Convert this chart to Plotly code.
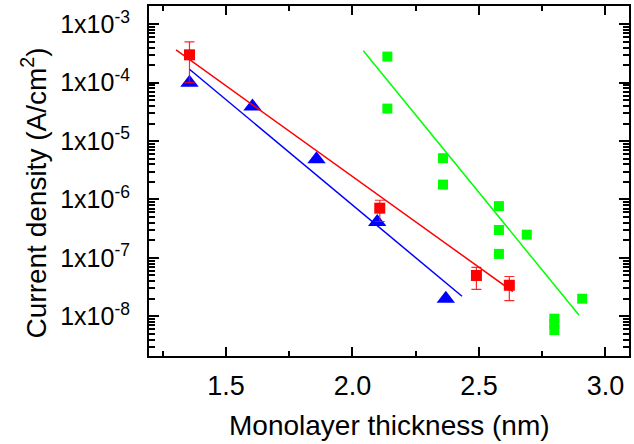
import numpy as np
import plotly.graph_objects as go

# ---- data ----
red_x = [1.356, 2.108, 2.49, 2.62]
red_y = [3.0e-4, 7.1e-7, 5.0e-8, 3.4e-8]
red_top = [5.0e-4, 9.7e-7, 6.9e-8, 4.8e-8]
red_bot = [1.0e-4, 4.2e-7, 2.9e-8, 1.86e-8]

blue_x = [1.356, 1.605, 1.858, 2.098, 2.369]
blue_y = [1.0e-4, 3.9e-5, 4.9e-6, 4.1e-7, 2.0e-8]

green_x = [2.138, 2.138, 2.358, 2.358, 2.579, 2.579, 2.579, 2.689, 2.798, 2.798, 2.798, 2.908]
green_y = [2.8e-4, 3.6e-5, 5.1e-6, 1.8e-6, 7.7e-7, 3.0e-7, 1.17e-7, 2.5e-7, 9.1e-9, 7.4e-9, 5.8e-9, 2.0e-8]

red_fit_x = [1.303, 2.634]
red_fit_y = [3.63e-4, 2.65e-8]
blue_fit_x = [1.356, 2.433]
blue_fit_y = [1.7e-4, 2.2e-8]
green_fit_x = [2.043, 2.895]
green_fit_y = [3.53e-4, 1.05e-8]

y_tick_vals = [1e-8, 1e-7, 1e-6, 1e-5, 1e-4, 1e-3]
y_tick_text = ["1x10<sup>-8</sup>", "1x10<sup>-7</sup>", "1x10<sup>-6</sup>",
               "1x10<sup>-5</sup>", "1x10<sup>-4</sup>", "1x10<sup>-3</sup>"]
x_tick_vals = [1.5, 2.0, 2.5, 3.0]
x_tick_text = ["1.5", "2.0", "2.5", "3.0"]

FONT = "Liberation Sans, Arial, sans-serif"
RED = "#FF0000"
BLUE = "#0000FF"
GREEN = "#00FF00"

fig = go.Figure()

fig.add_trace(go.Scatter(x=blue_x, y=blue_y, mode="markers",
                         marker=dict(symbol="triangle-up", size=16, color=BLUE),
                         showlegend=False))
fig.add_trace(go.Scatter(x=blue_fit_x, y=blue_fit_y, mode="lines",
                         line=dict(color=BLUE, width=1.5), showlegend=False))
fig.add_trace(go.Scatter(x=green_x, y=green_y, mode="markers",
                         marker=dict(symbol="square", size=10, color=GREEN),
                         showlegend=False))
fig.add_trace(go.Scatter(x=green_fit_x, y=green_fit_y, mode="lines",
                         line=dict(color=GREEN, width=1.5), showlegend=False))
fig.add_trace(go.Scatter(
    x=red_x, y=red_y, mode="markers",
    marker=dict(symbol="square", size=11, color=RED),
    error_y=dict(type="data", symmetric=False,
                 array=[t - v for t, v in zip(red_top, red_y)],
                 arrayminus=[v - b for v, b in zip(red_y, red_bot)],
                 color="rgba(255,0,0,0.85)", thickness=1.2, width=5),
    showlegend=False))
fig.add_trace(go.Scatter(x=red_fit_x, y=red_fit_y, mode="lines",
                         line=dict(color=RED, width=1.5), showlegend=False))

minor_y = [m * 10.0 ** e for e in range(-9, -2) for m in range(2, 10)]

fig.update_xaxes(
    range=[1.196, 3.093], tickvals=x_tick_vals, ticktext=x_tick_text,
    ticks="inside", ticklen=9, tickwidth=2, tickcolor="black",
    showline=True, linewidth=2, linecolor="black", mirror="ticks",
    showgrid=False, zeroline=False,
    minor=dict(dtick=0.25, tick0=0, ticks="inside", ticklen=5, tickwidth=2,
               tickcolor="black", showgrid=False),
    tickfont=dict(family=FONT, size=27, color="black"),
    ticklabelstandoff=5,
)
fig.update_yaxes(
    type="log", range=[-8.68, -2.687], tickvals=y_tick_vals, ticktext=y_tick_text,
    ticks="inside", ticklen=10, tickwidth=2, tickcolor="black",
    showline=True, linewidth=2, linecolor="black", mirror="ticks",
    showgrid=False, zeroline=False,
    minor=dict(tickvals=minor_y, ticks="inside", ticklen=6, tickwidth=1.5,
               tickcolor="black", showgrid=False),
    tickfont=dict(family=FONT, size=25, color="black"),
    ticklabelstandoff=12,
)

fig.add_annotation(text="Monolayer thickness (nm)", xref="paper", yref="paper",
                   x=(390.7 - 149) / 482, y=-(425 - 356) / 350,
                   xanchor="center", yanchor="middle", showarrow=False,
                   font=dict(family=FONT, size=28, color="black"))
fig.add_annotation(text="Current density (A/cm<sup>2</sup>)", xref="paper", yref="paper",
                   x=-(149 - 34) / 482, y=(356 - 193) / 350,
                   xanchor="center", yanchor="middle", textangle=-90, showarrow=False,
                   font=dict(family=FONT, size=28, color="black"))

fig.update_layout(
    width=634, height=444,
    margin=dict(l=149, r=3, t=6, b=88),
    plot_bgcolor="white", paper_bgcolor="white",
)

fig.write_html("out.html")
